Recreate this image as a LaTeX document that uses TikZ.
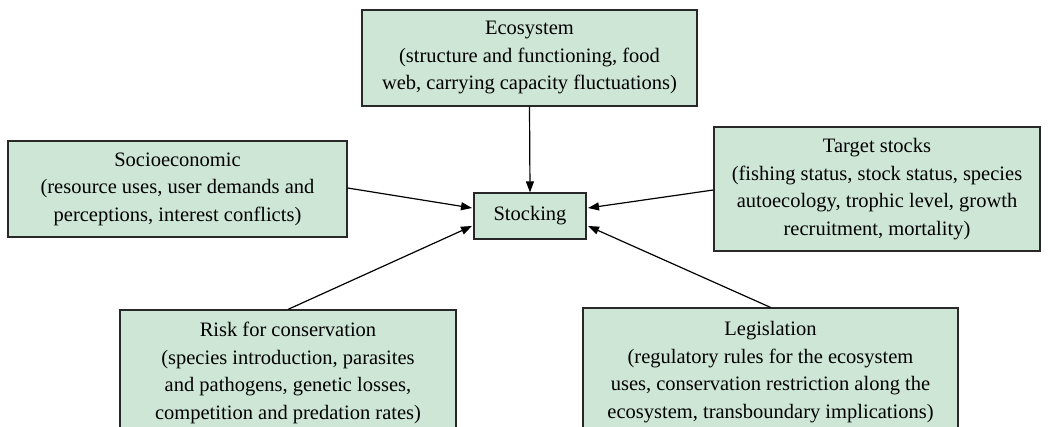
\documentclass[tikz,border=0pt]{standalone}
\usepackage{fontspec}
\setmainfont{Liberation Serif}
\usetikzlibrary{arrows.meta}
\definecolor{boxfill}{RGB}{205,230,213}
\definecolor{boxline}{RGB}{40,40,40}
\begin{document}
\begin{tikzpicture}[x=1pt,y=-1pt,
  box/.style={draw=boxline,fill=boxfill,line width=1.2pt,align=center,inner sep=0pt,
    font=\fontsize{20.5}{27.5}\selectfont},
  conn/.style={line width=1.2pt,-{Triangle[length=11pt,width=8pt]}}]
\useasboundingbox (0,0) rectangle (1048,427);
\clip (0,0) rectangle (1048,427);
\node[box,minimum width=335pt,minimum height=96pt] (eco) at (529.5,58)
  {Ecosystem\\(structure and functioning, food\\web, carrying capacity fluctuations)};
\node[box,minimum width=112pt,minimum height=46pt] (st) at (530,216) {Stocking};
\node[box,minimum width=339pt,minimum height=96pt] (soc) at (177.5,189)
  {Socioeconomic\\(resource uses, user demands and\\perceptions, interest conflicts)};
\node[box,minimum width=326pt,minimum height=124pt] (tar) at (877,189)
  {Target stocks\\(fishing status, stock status, species\\autoecology, trophic level, growth\\recruitment, mortality)};
\node[box,minimum width=336pt,minimum height=126pt] (risk) at (288,373)
  {Risk for conservation\\(species introduction, parasites\\and pathogens, genetic losses,\\competition and predation rates)};
\node[box,minimum width=375pt,minimum height=128pt] (leg) at (770.5,372)
  {Legislation\\(regulatory rules for the ecosystem\\uses, conservation restriction along the\\ecosystem, transboundary implications)};
\coordinate (stl1) at (472,208);
\coordinate (stl2) at (472,226);
\coordinate (str1) at (588,208);
\coordinate (str2) at (588,226);
\draw[conn] (eco.south) -- (st.north);
\draw[conn] (soc.east |- 0,188) -- (stl1);
\draw[conn] (tar.west |- 0,190) -- (str1);
\draw[conn] (risk.north) -- (stl2);
\draw[conn] (leg.north) -- (str2);
\end{tikzpicture}
\end{document}
